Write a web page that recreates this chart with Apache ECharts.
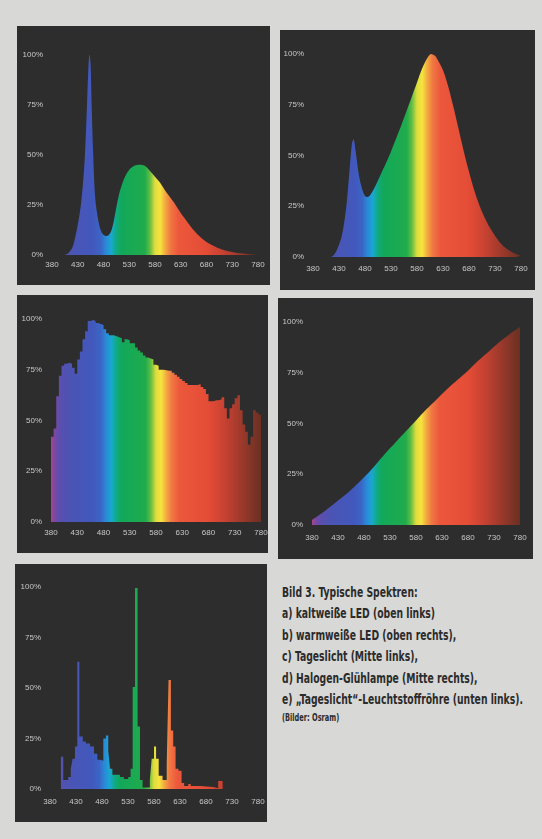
<!DOCTYPE html>
<html>
<head>
<meta charset="utf-8">
<script src="https://cdn.jsdelivr.net/npm/echarts@6/dist/echarts.min.js"></script>
<style>
  body { margin: 0; width: 542px; height: 839px; background: #d8d8d6; position: relative; overflow: hidden; }
  .panel { position: absolute; background: #2d2d2d; }
  .caption { position: absolute; left: 282px; top: 582px; color: #2b2b2b;
    font-family: 'DejaVu Sans Condensed', 'Liberation Sans', sans-serif;
    font-weight: bold; font-size: 14px; line-height: 21.4px; white-space: nowrap;
    transform-origin: 0 0; }
  .caption div { width: max-content; }
  .caption .src { font-size: 10px; line-height: 15px; }
</style>
</head>
<body>
<div id="chartA" class="panel" style="left:17px;top:26px;width:253px;height:259px"></div>
<div id="chartB" class="panel" style="left:280px;top:30px;width:255px;height:260px"></div>
<div id="chartC" class="panel" style="left:17px;top:295px;width:251px;height:258px"></div>
<div id="chartD" class="panel" style="left:278px;top:298px;width:255px;height:261px"></div>
<div id="chartE" class="panel" style="left:15px;top:564px;width:252px;height:258px"></div>
<div class="caption" id="caption">
  <div>Bild 3. Typische Spektren:</div>
  <div>a) kaltweiße LED (oben links)</div>
  <div>b) warmweiße LED (oben rechts),</div>
  <div>c) Tageslicht (Mitte links),</div>
  <div>d) Halogen-Glühlampe (Mitte rechts),</div>
  <div id="longest">e) „Tageslicht“-Leuchtstoffröhre (unten links).</div>
  <div class="src">(Bilder: Osram)</div>
</div>
<script>
// a) kaltweisse LED
var coolNm  = [405, 412, 420, 426, 432, 436, 440, 444, 448, 451, 453, 455, 457, 460, 464, 470, 477, 485, 490, 495, 500, 510, 520, 530, 540, 550, 560, 570, 580, 590, 600, 610, 620, 630, 640, 650, 660, 670, 680, 690, 700, 710, 720, 740, 760, 780];
var coolVal = [0, 1, 4, 10, 18, 25, 35, 50, 75, 95, 100, 95, 75, 50, 28, 17, 11, 9.5, 10, 12, 17, 30, 38, 42.5, 44.5, 45, 44.5, 42, 39, 36, 32, 28.5, 25, 21, 17.5, 14, 11, 8.5, 6.5, 5, 3.8, 2.8, 2, 1, 0.5, 0];

// b) warmweisse LED
var warmNm  = [415, 420, 425, 430, 435, 440, 445, 450, 455, 458, 462, 466, 470, 475, 480, 485, 490, 500, 510, 520, 530, 540, 550, 560, 570, 580, 590, 600, 607, 615, 620, 630, 640, 650, 660, 670, 680, 690, 700, 710, 720, 730, 740, 750, 760, 770, 780];
var warmVal = [0, 1, 3, 6, 10, 17, 27, 42, 56, 58, 52, 44, 38, 33, 30, 29.5, 30.5, 35, 40.5, 46, 52, 58.5, 65, 72, 79, 86, 93, 98, 100, 99, 97, 92, 84, 74, 63, 52, 42, 33, 25.5, 19.5, 14.5, 10.5, 7, 4.5, 2.8, 1.5, 0.5];

// c) Tageslicht (5-nm-Stufen)
var dayNm  = [380, 385, 390, 395, 400, 405, 410, 415, 420, 425, 430, 435, 440, 445, 450, 455, 460, 465, 470, 475, 480, 485, 490, 495, 500, 505, 510, 515, 520, 525, 530, 535, 540, 545, 550, 555, 560, 565, 570, 575, 580, 585, 590, 595, 600, 605, 610, 615, 620, 625, 630, 635, 640, 645, 650, 655, 660, 665, 670, 675, 680, 685, 690, 695, 700, 705, 710, 715, 720, 725, 730, 735, 740, 745, 750, 755, 760, 765, 770, 775, 780];
var dayVal = [42, 46, 62, 72, 77, 78, 78.5, 78, 76, 73, 80, 84, 90, 94, 99, 99.5, 99, 98, 97.5, 97, 95, 93, 92, 92, 91.5, 91, 90.5, 88.5, 90, 89.5, 88, 88, 86, 84.5, 83.5, 82, 81, 80.5, 80, 77.5, 77, 75, 75, 74.8, 74.5, 74.5, 73.5, 72.5, 71.5, 70.5, 69.5, 68.5, 67.5, 67.5, 67.5, 67.5, 68, 66.5, 65.5, 63, 59.5, 59.5, 60, 60, 60.5, 61.5, 56, 51, 56, 58, 61, 62.5, 55, 48, 44.5, 38, 42, 55, 54, 53, 52];

// d) Halogen-Gluehlampe
var haloNm  = [380, 400, 420, 440, 460, 480, 500, 520, 540, 560, 580, 600, 620, 640, 660, 680, 700, 720, 740, 760, 780];
var haloVal = [2.5, 6, 10, 14, 18.5, 23.5, 29, 35, 40.5, 46, 51.5, 57, 62, 67, 71.5, 76, 81, 85.5, 90, 94, 97.5];

// e) Tageslicht-Leuchtstoffroehre (Stufen, Wert gilt ab Startwellenlaenge)
var tubeNm  = [401, 405.5, 415, 420, 423.5, 428, 432.5, 436.5, 443, 449, 457, 464.5, 471, 476, 482.5, 487.5, 492, 495.5, 500, 505, 514.5, 522, 530.5, 535, 539, 543.5, 548.5, 553, 558, 572, 575.5, 580, 584, 589, 596.5, 604.5, 608, 612.5, 617, 621.5, 627, 633, 638, 646, 650.5, 668.5, 694, 703.5, 712];
var tubeVal = [16, 4.5, 6, 10, 15, 21, 63, 26, 23.5, 22.5, 21, 17.5, 14.5, 14, 25, 26.5, 19, 10, 7, 7, 6, 5, 6, 10, 50.5, 99.5, 31, 4.5, 0.8, 4.5, 15, 21, 15, 6.5, 4.5, 12.5, 54, 29, 21, 10, 9, 3, 1.5, 2.5, 1.5, 1, 0.4, 4, 0];

var axisTicks = [0, 25, 50, 75, 100];

// Spektralfarben entlang der Wellenlaenge
var specNm    = [380, 390, 400, 420, 460, 475, 485, 495, 505, 515, 560, 570, 580, 590, 600, 610, 625, 680, 710, 740, 780];
var specColor = ['#a2458f', '#6e4aa8', '#5650b0', '#4a55b5', '#4258bc', '#3a66c6', '#2a8ad8', '#18a8d0', '#10aa80', '#12a85a', '#20ab4c', '#60bd44', '#e0dc3c', '#f6e43e', '#f2a840', '#f07842', '#ec583c', '#e44c36', '#c84232', '#a03a2c', '#6a3022'];

function spectrum(id, grid, nm, val, opts) {
  var el = document.getElementById(id);
  var chart = echarts.init(el);
  var x0 = grid.left;
  var x1 = el.clientWidth - grid.right;
  var stops = specNm.map(function (n, i) {
    return { offset: (n - 380) / 400, color: specColor[i] };
  });
  var fill = new echarts.graphic.LinearGradient(x0, 0, x1, 0, stops, true);
  var label = { color: '#c8c8c8', fontSize: 8, fontFamily: 'Liberation Sans' };
  chart.setOption({
    backgroundColor: '#2d2d2d',
    animation: false,
    grid: Object.assign({ outerBoundsMode: 'none' }, grid),
    xAxis: {
      type: 'value', min: 380, max: 780, interval: 50,
      axisLine: { show: false }, axisTick: { show: false }, splitLine: { show: false },
      axisLabel: Object.assign({ margin: opts.xMargin }, label)
    },
    yAxis: {
      type: 'value', min: axisTicks[0], max: axisTicks[axisTicks.length - 1], interval: 25,
      axisLine: { show: false }, axisTick: { show: false }, splitLine: { show: false },
      axisLabel: Object.assign({ margin: 9, formatter: '{value}%' }, label)
    },
    series: [{
      type: 'line',
      data: nm.map(function (n, i) { return [n, val[i]]; }),
      smooth: opts.smooth || false,
      step: opts.step || false,
      showSymbol: false,
      lineStyle: { width: 0 },
      areaStyle: { color: fill, opacity: 1 }
    }]
  });
  return chart;
}

spectrum('chartA', { left: 35, right: 12, top: 28.5, bottom: 30 }, coolNm, coolVal, { smooth: 0.3, xMargin: 6 });
spectrum('chartB', { left: 33, right: 14, top: 24, bottom: 33 }, warmNm, warmVal, { smooth: 0.3, xMargin: 8 });
spectrum('chartC', { left: 34, right: 7, top: 24, bottom: 31 }, dayNm, dayVal, { step: 'end', xMargin: 7 });
spectrum('chartD', { left: 34, right: 13, top: 24, bottom: 34 }, haloNm, haloVal, { smooth: 0.3, xMargin: 9 });
spectrum('chartE', { left: 35, right: 9, top: 23, bottom: 33 }, tubeNm, tubeVal, { step: 'end', xMargin: 9 });

// condensed caption: squeeze the longest line to the printed width
var cap = document.getElementById('caption');
var longest = document.getElementById('longest');
cap.style.transform = 'scaleX(' + (241 / longest.offsetWidth) + ')';
</script>
</body>
</html>
